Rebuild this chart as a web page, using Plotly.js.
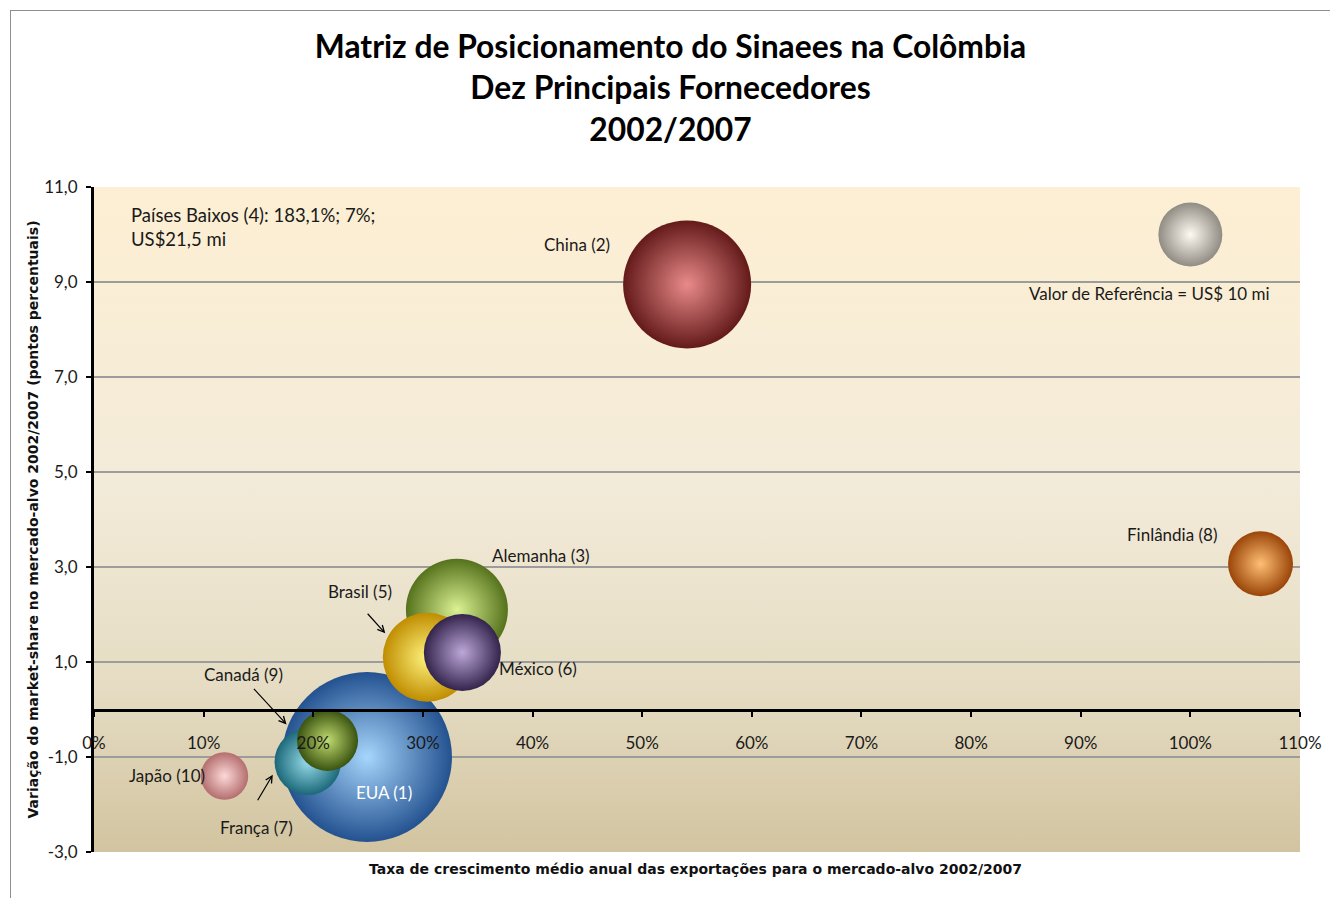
<!DOCTYPE html>
<html>
<head>
<meta charset="utf-8">
<script src="https://cdn.plot.ly/plotly-3.0.1.min.js"></script>
<style>
  html, body { margin: 0; padding: 0; background: #ffffff; }
  #wrap { position: absolute; left: 10px; top: 10px; width: 1319px; height: 887px;
          border-left: 1px solid #8e8e8e; border-top: 1px solid #8e8e8e; }
  #chart { width: 1319px; height: 887px; }
</style>
</head>
<body>
<div id="wrap"><div id="chart"></div></div>
<script>
// ---------------- data ----------------
const countries = ["EUA", "China", "Alemanha", "Brasil", "México", "França", "Finlândia", "Canadá", "Japão"];
const ranks     = [1, 2, 3, 5, 6, 7, 8, 9, 10];
const growth    = [24.9, 54.1, 33.1, 30.4, 33.6, 19.5, 106.4, 21.3, 11.9];   // % a.a.
const shareVar  = [-1.0, 8.95, 2.1, 1.1, 1.2, -1.1, 3.07, -0.65, -1.4];     // p.p.
const valueMi   = [70.5, 40.0, 25.4, 19.3, 14.5, 10.8, 10.3, 9.1, 5.5];     // US$ mi
const lightColor = ["#a6d5fc", "#e98a8a", "#dcf293", "#fff47f", "#bda7d9", "#98dcea", "#ffbf74", "#c0db70", "#fdd8d8"];
const darkColor  = ["#245290", "#641a1a", "#55721c", "#c08d00", "#33244c", "#1b6879", "#9a4508", "#3a5310", "#b46e6e"];

const refName  = "Valor de Referência = US$ 10 mi";
const refX     = [100];
const refY     = [10.0];
const refValue = [10];

const pbName = "Países Baixos", pbRank = 4, pbGrowth = 183.1, pbShare = 7, pbValue = 21.5;

const xTicks = [0, 10, 20, 30, 40, 50, 60, 70, 80, 90, 100, 110];
const yTicks = [-3, -1, 1, 3, 5, 7, 9, 11];

// ---------------- styling helpers ----------------
const FONT = "Lato, 'Open Sans', sans-serif";
const AXFONT = "'DejaVu Sans', sans-serif";
const sizeRef = 2 * 10 / (64 * 64);   // value 10 -> ~64 px diameter (area mode)

// pixel offsets of labels relative to their bubble (layout only)
const labelShift = {
  "EUA":       [17, -35],
  "China":     [-110, 40],
  "Alemanha":  [84, 54],
  "Brasil":    [-67, 66],
  "México":    [76, -16],
  "França":    [-51, -66],
  "Finlândia": [-89, 29],
  "Canadá":    [-84, 66],
  "Japão":     [-57, 1]
};
const arrows = {
  "Brasil": {xs: -42, ys: 24, ax: -19, ay: -21},
  "Canadá": {xs: -41, ys: 16, ax: -34, ay: -37},
  "França": {xs: -35, ys: -13, ax: -16, ay: 27}
};

const fmt = (v, d) => v.toFixed(d).replace(".", ",");

const traces = [
  {
    type: "scatter", mode: "markers", name: "Fornecedores",
    x: growth, y: shareVar,
    text: countries.map((c, i) => c + " (" + ranks[i] + ")"),
    hovertemplate: "%{text}<br>%{x:.1f}%<br>%{y:.1f} p.p.<extra></extra>",
    marker: {
      size: valueMi, sizemode: "area", sizeref: sizeRef,
      color: darkColor, opacity: 1,
      gradient: {type: "radial", color: lightColor},
      line: {width: 0}
    },
    cliponaxis: false
  },
  {
    type: "scatter", mode: "markers", name: refName,
    x: refX, y: refY,
    hovertemplate: refName + "<extra></extra>",
    marker: {
      size: refValue, sizemode: "area", sizeref: sizeRef,
      color: "#626262", gradient: {type: "radial", color: "#ffffff"},
      line: {width: 0}
    },
    cliponaxis: false
  }
];

const annotations = [];
countries.forEach((c, i) => {
  const s = labelShift[c];
  annotations.push({
    x: growth[i], y: shareVar[i], xref: "x", yref: "y",
    text: c + " (" + ranks[i] + ")", showarrow: false,
    xshift: s[0], yshift: s[1],
    font: {family: FONT, size: 17, color: c === "EUA" ? "#ffffff" : "#1a1a1a"}
  });
  if (arrows[c]) {
    const a = arrows[c];
    annotations.push({
      x: growth[i], y: shareVar[i], xref: "x", yref: "y",
      text: "", showarrow: true, xshift: a.xs, yshift: a.ys,
      ax: a.ax, ay: a.ay, axref: "pixel", ayref: "pixel",
      arrowhead: 5, arrowsize: 1.1, arrowwidth: 1.2, arrowcolor: "#000000", standoff: 0
    });
  }
});
annotations.push({
  x: refX[0], y: refY[0], xref: "x", yref: "y", showarrow: false,
  text: refName, xshift: -41, yshift: -59,
  font: {family: FONT, size: 17, color: "#1a1a1a"}
});
annotations.push({
  x: 0.029, y: 0.977, xref: "paper", yref: "paper", xanchor: "left", yanchor: "top",
  align: "left", showarrow: false,
  text: pbName + " (" + pbRank + "): " + fmt(pbGrowth, 1) + "%; " + pbShare + "%;<br>US$" + fmt(pbValue, 1) + " mi",
  font: {family: FONT, size: 18.5, color: "#1a1a1a"}
});
annotations.push({
  x: 0.499, y: -0.026, xref: "paper", yref: "paper", xanchor: "center", yanchor: "middle",
  showarrow: false,
  text: "<b>Taxa de crescimento médio anual das exportações para o mercado-alvo 2002/2007</b>",
  font: {family: AXFONT, size: 14, color: "#111111"}
});

// background gradient of the plot area
const bgSvg = '<svg xmlns="http://www.w3.org/2000/svg" width="10" height="100" preserveAspectRatio="none">' +
  '<defs><linearGradient id="g" x1="0" y1="0" x2="0" y2="1">' +
  '<stop offset="0" stop-color="#fdefd3"/><stop offset="0.45" stop-color="#f3ebd9"/>' +
  '<stop offset="0.75" stop-color="#e5dcc3"/><stop offset="1" stop-color="#d2c4a0"/>' +
  '</linearGradient></defs><rect width="10" height="100" fill="url(#g)"/></svg>';
const bgUri = "data:image/svg+xml;charset=utf-8," + encodeURIComponent(bgSvg);

const layout = {
  width: 1319, height: 887,
  margin: {l: 83, r: 30, t: 176, b: 46},
  paper_bgcolor: "#ffffff",
  plot_bgcolor: "rgba(0,0,0,0)",
  separators: ",.",
  showlegend: false,
  font: {family: FONT, color: "#1a1a1a"},
  title: {
    text: "<b>Matriz de Posicionamento do Sinaees na Colômbia<br>Dez Principais Fornecedores<br>2002/2007</b>",
    x: 0.5, xanchor: "center", y: 0.947, yanchor: "top", yref: "container",
    font: {family: FONT, size: 31.8, color: "#000000"}
  },
  xaxis: {
    range: [0, 110], tickvals: xTicks, ticktext: xTicks.map(v => v + "%"),
    showgrid: false, zeroline: false,
    showline: true, linecolor: "#000000", linewidth: 3,
    ticks: "outside", ticklen: 5, tickwidth: 2, tickcolor: "#000000",
    anchor: "free", position: 3 / 14,
    ticklabelstandoff: 12,
    tickfont: {family: FONT, size: 17, color: "#1a1a1a"},
    fixedrange: true
  },
  yaxis: {
    range: [-3, 11], tickvals: yTicks, ticktext: yTicks.map(v => fmt(v, 1)),
    showgrid: true, gridcolor: "#9c9c9c", gridwidth: 1.5,
    zeroline: false,
    showline: true, linecolor: "#000000", linewidth: 3,
    ticks: "outside", ticklen: 5, tickwidth: 2, tickcolor: "#000000",
    ticklabelstandoff: 5,
    tickfont: {family: FONT, size: 17, color: "#1a1a1a"},
    title: {
      text: "<b>Variação do market-share no mercado-alvo 2002/2007 (pontos percentuais)</b>",
      font: {family: AXFONT, size: 14, color: "#111111"}, standoff: 3
    },
    fixedrange: true
  },
  images: [{
    source: bgUri, xref: "paper", yref: "paper", x: 0, y: 1, sizex: 1, sizey: 1,
    sizing: "stretch", xanchor: "left", yanchor: "top", layer: "below"
  }],
  annotations: annotations
};

Plotly.newPlot("chart", traces, layout, {displayModeBar: false, responsive: false});
</script>
</body>
</html>
